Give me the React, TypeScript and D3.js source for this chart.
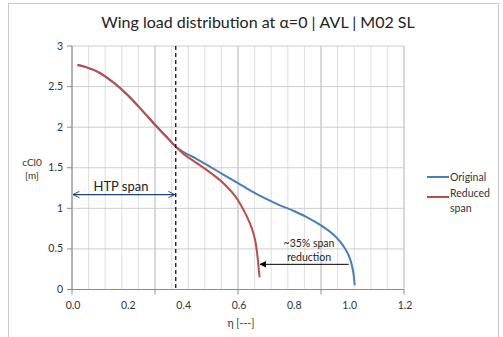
import React from 'react'
import * as d3 from 'd3'

// spanwise position and cCl0
const originalEta = [0.02, 0.05, 0.1, 0.15, 0.2, 0.25, 0.3, 0.35, 0.375, 0.4, 0.45, 0.5, 0.55, 0.6, 0.65, 0.7, 0.75, 0.8, 0.85, 0.9, 0.95, 0.98, 1.0, 1.01, 1.018, 1.022]
const originalCcl = [2.765, 2.74, 2.67, 2.55, 2.4, 2.22, 2.03, 1.85, 1.76, 1.7, 1.61, 1.51, 1.41, 1.31, 1.21, 1.12, 1.04, 0.97, 0.89, 0.79, 0.66, 0.54, 0.42, 0.32, 0.18, 0.05]
const reducedEta = [0.02, 0.05, 0.1, 0.15, 0.2, 0.25, 0.3, 0.35, 0.375, 0.4, 0.45, 0.5, 0.55, 0.6, 0.62, 0.64, 0.655, 0.665, 0.672, 0.676, 0.678]
const reducedCcl = [2.765, 2.74, 2.67, 2.55, 2.4, 2.22, 2.03, 1.85, 1.76, 1.68, 1.56, 1.44, 1.3, 1.1, 0.98, 0.84, 0.7, 0.55, 0.36, 0.22, 0.15]

const xTicks = [0, 0.2, 0.4, 0.6, 0.8, 1.0, 1.2]
const xMajor = [0, 0.3, 0.6, 0.9, 1.2]
const yTicks = [0, 0.5, 1, 1.5, 2, 2.5, 3]

const htpEta = 0.375
const htpArrowY = 1.17
const reductionFrom = 1.0
const reductionTo = 0.68
const reductionY = 0.31

const BLUE = '#4a7ebb'
const RED = '#be4b48'
const NAVY = '#1f3f7f'
const FONT = 'Lato, "Open Sans", sans-serif'

const App = () => {
  const x = d3.scaleLinear().domain([0, 1.2]).range([72, 404])
  const y = d3.scaleLinear().domain([0, 3]).range([289.5, 46])

  const line = d3
    .line<[number, number]>()
    .x((d) => x(d[0]))
    .y((d) => y(d[1]))
    .curve(d3.curveMonotoneX)

  const original = originalEta.map((e, i) => [e, originalCcl[i]] as [number, number])
  const reduced = reducedEta.map((e, i) => [e, reducedCcl[i]] as [number, number])

  const minor = d3.range(0, 1.2001, 0.06)

  return (
    <div style={{ position: 'fixed', left: 0, top: 0 }}>
      <svg width={503} height={337} style={{ display: 'block', background: '#fff' }} fontFamily={FONT}>
        <defs>
          <marker id="open" viewBox="0 0 10 10" refX="9" refY="5" markerWidth="8" markerHeight="8" orient="auto-start-reverse" markerUnits="userSpaceOnUse">
            <path d="M1,1 L9,5 L1,9" fill="none" stroke={NAVY} strokeWidth="1.2" />
          </marker>
          <marker id="solid" viewBox="0 0 10 10" refX="9" refY="5" markerWidth="7" markerHeight="7" orient="auto" markerUnits="userSpaceOnUse">
            <path d="M0,0 L10,5 L0,10 Z" fill="#000" />
          </marker>
        </defs>

        {/* outer chart frame */}
        <rect x={8.5} y={3.5} width={490} height={345} fill="none" stroke="#c8c8c8" />

        <text x={258} y={28} textAnchor="middle" fontSize={16} fill="#222">
          Wing load distribution at α=0 | AVL | M02 SL
        </text>

        {/* grid */}
        {minor.map((v, i) => (
          <line key={'m' + i} x1={x(v)} x2={x(v)} y1={y(3)} y2={y(0)} stroke="#dedede" strokeWidth={1} />
        ))}
        {xMajor.map((v) => (
          <line key={'M' + v} x1={x(v)} x2={x(v)} y1={y(3)} y2={y(0)} stroke="#c2c2c2" strokeWidth={1} />
        ))}
        {yTicks.map((v) => (
          <line key={'h' + v} x1={x(0)} x2={x(1.2)} y1={y(v)} y2={y(v)} stroke="#cccccc" strokeWidth={1} />
        ))}

        {/* axes */}
        <line x1={x(0)} x2={x(0)} y1={y(3)} y2={y(0)} stroke="#8c8c8c" />
        <line x1={x(0)} x2={x(1.2)} y1={y(0)} y2={y(0)} stroke="#8c8c8c" />
        {yTicks.map((v) => (
          <g key={'yt' + v}>
            <line x1={x(0) - 5} x2={x(0)} y1={y(v)} y2={y(v)} stroke="#8c8c8c" />
            <text x={63} y={y(v) + 3.5} textAnchor="end" fontSize={10.5} fill="#333">
              {d3.format('')(v)}
            </text>
          </g>
        ))}
        {xMajor.map((v) => (
          <line key={'xt' + v} x1={x(v)} x2={x(v)} y1={y(0)} y2={y(0) + 5} stroke="#8c8c8c" />
        ))}
        {xTicks.map((v) => (
          <text key={'xl' + v} x={x(v) + 1} y={309} textAnchor="middle" fontSize={10.5} fill="#333">
            {d3.format('.1f')(v)}
          </text>
        ))}
        <text x={241} y={327} textAnchor="middle" fontSize={10.5} fill="#333">η [---]</text>
        <text x={32} y={166} textAnchor="middle" fontSize={10} fill="#333">cCl0</text>
        <text x={32} y={179} textAnchor="middle" fontSize={10} fill="#333">[m]</text>

        {/* series */}
        <path d={line(original) ?? ''} fill="none" stroke={BLUE} strokeWidth={2} />
        <path d={line(reduced) ?? ''} fill="none" stroke={RED} strokeWidth={2} />

        {/* HTP span annotation */}
        <line x1={x(htpEta)} x2={x(htpEta)} y1={y(3)} y2={y(0)} stroke="#111" strokeWidth={1.3} strokeDasharray="4,3" />
        <line
          x1={x(0) + 1}
          x2={x(htpEta) - 1}
          y1={y(htpArrowY)}
          y2={y(htpArrowY)}
          stroke={NAVY}
          strokeWidth={1.2}
          markerStart="url(#open)"
          markerEnd="url(#open)"
        />
        <text x={121} y={191} textAnchor="middle" fontSize={13} fill="#222">HTP span</text>

        {/* span reduction annotation */}
        <line
          x1={x(reductionFrom)}
          x2={x(reductionTo)}
          y1={y(reductionY)}
          y2={y(reductionY)}
          stroke="#000"
          strokeWidth={1}
          markerEnd="url(#solid)"
        />
        <text x={309} y={247} textAnchor="middle" fontSize={10.5} fill="#222">~35% span</text>
        <text x={309} y={261} textAnchor="middle" fontSize={10.5} fill="#222">reduction</text>

        {/* legend */}
        <line x1={427} x2={449} y1={177} y2={177} stroke={BLUE} strokeWidth={2} />
        <text x={450} y={181} fontSize={10.5} fill="#333">Original</text>
        <line x1={427} x2={449} y1={197} y2={197} stroke={RED} strokeWidth={2} />
        <text x={450} y={197} fontSize={10.5} fill="#333">Reduced</text>
        <text x={450} y={212} fontSize={10.5} fill="#333">span</text>
      </svg>
    </div>
  )
}

export default App
